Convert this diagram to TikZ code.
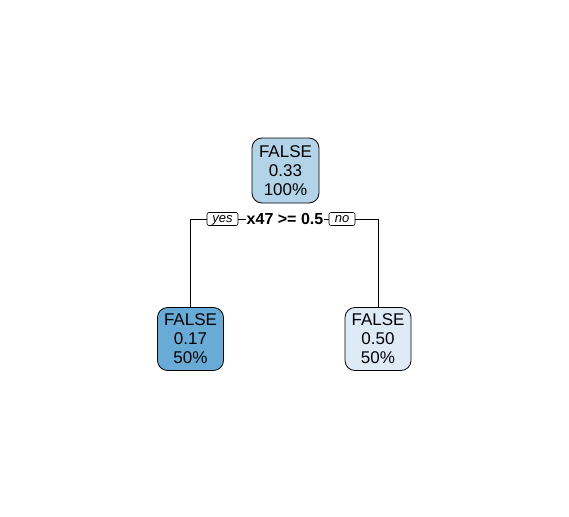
\documentclass[tikz,border=0pt]{standalone}
\usepackage{fontspec}
\setmainfont{Liberation Sans}
\usetikzlibrary{positioning}
\definecolor{rootBlue}{HTML}{B3D3E8}
\definecolor{leftBlue}{HTML}{68ABD6}
\definecolor{rightBlue}{HTML}{DEEBF7}
\begin{document}
\begin{tikzpicture}[x=1pt, y=-1pt]
% style: treeNode
\tikzstyle{treeNode}=[draw, line width=0.8pt, rounded corners=10pt, minimum width=66pt, minimum height=63pt, align=center, inner sep=2pt, font=\fontsize{17}{19}\selectfont]
% style: splitLabel
\tikzstyle{splitLabel}=[inner sep=1pt, font=\bfseries\fontsize{16}{18}\selectfont]
% style: answerLabel
\tikzstyle{answerLabel}=[draw, line width=0.6pt, rounded corners=2pt, fill=white, inner sep=1pt, text height=9pt, text depth=2pt, font=\itshape\fontsize{13}{14}\selectfont]
% style: treeEdge
\tikzstyle{treeEdge}=[line width=0.8pt]

\useasboundingbox (0,0) rectangle (569,516);

% node: root
\node[treeNode, fill=rootBlue, minimum width=67pt, minimum height=65pt] (root) at (285.5, 170.5)
    {FALSE\\0.33\\100\%};

% node: leftLeaf
\node[treeNode, fill=leftBlue] (leftLeaf) at (190.5, 339)
    {FALSE\\0.17\\50\%};
% node: rightLeaf
\node[treeNode, fill=rightBlue] (rightLeaf) at (378, 339)
    {FALSE\\0.50\\50\%};

% node: split
\node[splitLabel] (split) at (285, 219) {x47 >= 0.5};
% node: yes
\node[answerLabel, minimum width=31pt] (yes) at (222.5, 219) {yes};
% node: no
\node[answerLabel, minimum width=26pt] (no) at (342, 219) {no};

% edge from yes to leftLeaf
\draw[treeEdge] (yes.west) -| (leftLeaf.north);
% edge from yes to split
\draw[treeEdge] (yes.east) -- (split.west);
% edge from split to no
\draw[treeEdge] (split.east) -- (no.west);
% edge from no to rightLeaf
\draw[treeEdge] (no.east) -| (rightLeaf.north);
\end{tikzpicture}
\end{document}
